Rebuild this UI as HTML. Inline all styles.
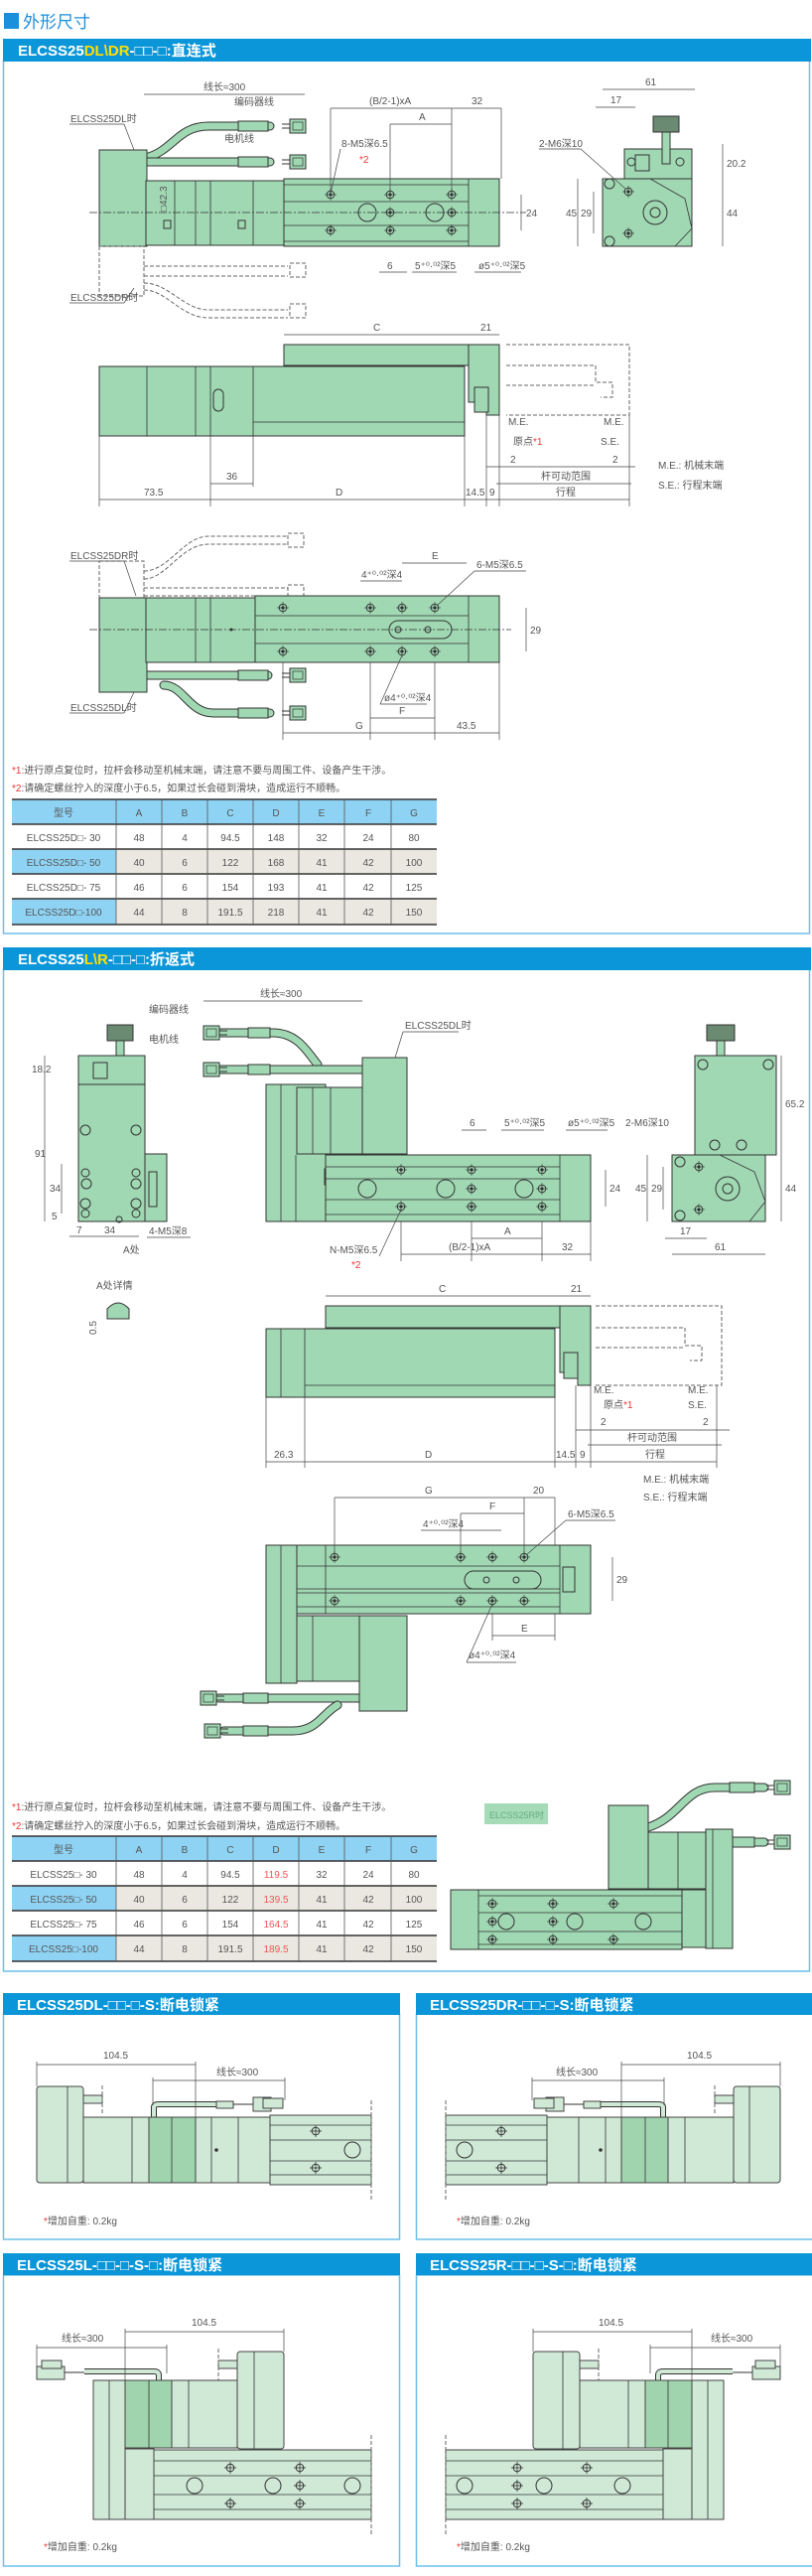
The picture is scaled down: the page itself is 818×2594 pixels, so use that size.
<!DOCTYPE html>
<html><head><meta charset="utf-8"><style>
body{margin:0;background:#fff}
svg{display:block}
text{font-family:"Liberation Sans","Noto Sans CJK SC",sans-serif}
.d{font-size:10px;fill:#555}
.hd{font-size:15px;font-weight:bold;fill:#fff}
.g{fill:#a0d8b3;stroke:#333;stroke-width:1}
.lg{fill:#cfe9d6;stroke:#444;stroke-width:1}
.dg{fill:#9fd4ae;stroke:#444;stroke-width:1}
.ln{stroke:#333;stroke-width:.8;fill:none}
.dm{stroke:#444;stroke-width:.7;fill:none}
.ds{stroke:#666;stroke-width:1;fill:none;stroke-dasharray:4 2}
.cl{stroke:#333;stroke-width:.7;stroke-dasharray:8 2 2 2}
.cb{fill:none;stroke:#333;stroke-width:9;stroke-linecap:round}
.cbi{fill:none;stroke:#a0d8b3;stroke-width:7;stroke-linecap:round}
</style></head><body>
<svg width="818" height="2594" viewBox="0 0 818 2594" xmlns="http://www.w3.org/2000/svg">
<defs>
<g id="h"><circle r="3.8" fill="#a0d8b3" stroke="#333" stroke-width="1"/><circle r="1.6" fill="#333"/><line x1="-6" x2="6" stroke="#333" stroke-width=".6"/><line y1="-6" y2="6" stroke="#333" stroke-width=".6"/></g>
<g id="hl"><circle r="3.8" fill="#cfe9d6" stroke="#333" stroke-width="1"/><line x1="-6" x2="6" stroke="#333" stroke-width=".8"/><line y1="-6" y2="6" stroke="#333" stroke-width=".8"/></g>
<g id="con"><rect x="0" y="-7" width="16" height="14" fill="#a0d8b3" stroke="#333"/><rect x="3" y="-4" width="10" height="8" fill="none" stroke="#333" stroke-width=".7"/><line x1="-8" y1="-2" x2="0" y2="-2" stroke="#333"/><line x1="-8" y1="2" x2="0" y2="2" stroke="#333"/></g>
</defs>

<!-- title -->
<rect x="4" y="13" width="15" height="16" fill="#1a8fdc"/>
<text x="23" y="28" font-size="17" fill="#1a8fdc">外形尺寸</text>

<!-- SECTION 1 -->
<rect x="3.5" y="61" width="812" height="879" fill="#fff" stroke="#6cc0ea" stroke-width="1.5"/>
<rect x="3" y="39" width="814" height="23" fill="#0a96d8"/>
<text x="18" y="56" class="hd">ELCSS25<tspan fill="#ffe000">DL\DR</tspan>-□□-□:直连式</text>

<!-- drawing 1 -->
<path class="cb" d="M150 158 C175 150 180 127 210 127 L272 127"/><path class="cbi" d="M150 158 C175 150 180 127 210 127 L272 127"/>
<path class="cb" d="M148 163 L272 163"/><path class="cbi" d="M148 163 L272 163"/>
<rect x="240" y="122" width="30" height="10" class="g"/><rect x="240" y="158" width="30" height="10" class="g"/>
<use href="#con" x="292" y="127"/><use href="#con" x="292" y="163"/>
<rect x="100" y="151" width="48" height="97" class="g"/>
<rect x="147" y="182" width="139" height="65" class="g"/>
<line class="ln" x1="176" y1="182" x2="176" y2="247"/><line class="ln" x1="197" y1="182" x2="197" y2="247"/><line class="ln" x1="212" y1="182" x2="212" y2="247"/><line class="ln" x1="255" y1="182" x2="255" y2="247"/>
<rect x="286" y="180" width="217" height="68" class="g"/>
<line class="ln" x1="286" y1="186" x2="472" y2="186"/><line class="ln" x1="286" y1="203" x2="472" y2="203"/><line class="ln" x1="286" y1="227" x2="472" y2="227"/><line class="ln" x1="286" y1="243" x2="472" y2="243"/><line class="ln" x1="472" y1="180" x2="472" y2="248"/>
<circle cx="370" cy="214" r="9" fill="none" stroke="#333"/><circle cx="438" cy="214" r="9" fill="none" stroke="#333"/>
<use href="#h" x="333" y="196"/><use href="#h" x="393" y="196"/><use href="#h" x="455" y="196"/>
<use href="#h" x="393" y="214"/><use href="#h" x="455" y="214"/>
<use href="#h" x="333" y="232"/><use href="#h" x="393" y="232"/><use href="#h" x="455" y="232"/>
<rect x="165" y="222" width="7" height="8" fill="none" stroke="#333"/><rect x="240" y="222" width="7" height="8" fill="none" stroke="#333"/>
<text class="d" x="160" y="205" transform="rotate(-90 168 205)">□42.3</text>
<line class="cl" x1="90" y1="214" x2="530" y2="214"/>
<!-- dims -->
<line class="dm" x1="145" y1="95" x2="307" y2="95"/><text class="d" x="205" y="91">线长≈300</text>
<line class="dm" x1="333" y1="109" x2="455" y2="109"/><text class="d" x="372" y="105">(B/2-1)xA</text>
<line class="dm" x1="455" y1="109" x2="505" y2="109"/><text class="d" x="475" y="105">32</text>
<line class="dm" x1="393" y1="125" x2="455" y2="125"/><text class="d" x="422" y="121">A</text>
<line class="dm" x1="333" y1="109" x2="333" y2="196"/><line class="dm" x1="455" y1="109" x2="455" y2="196"/><line class="dm" x1="393" y1="125" x2="393" y2="196"/><line class="dm" x1="505" y1="109" x2="505" y2="180"/>
<text class="d" x="344" y="148">8-M5深6.5</text><text x="362" y="164" font-size="10" fill="#e33">*2</text>
<line class="dm" x1="343" y1="150" x2="333" y2="195"/>
<text class="d" x="236" y="106">编码器线</text><text class="d" x="226" y="143">电机线</text>
<text class="d" x="71" y="123">ELCSS25DL时</text><line class="dm" x1="70" y1="125" x2="125" y2="125"/><line class="dm" x1="125" y1="125" x2="135" y2="151"/>
<line class="dm" x1="525" y1="196" x2="525" y2="232"/><text class="d" x="530" y="218">24</text>
<text class="d" x="390" y="271">6</text><text class="d" x="418" y="271">5⁺⁰·⁰²深5</text><text class="d" x="482" y="271">ø5⁺⁰·⁰²深5</text>
<line class="dm" x1="382" y1="274" x2="410" y2="274"/><line class="dm" x1="415" y1="274" x2="460" y2="274"/><line class="dm" x1="478" y1="274" x2="525" y2="274"/>
<!-- dashed DR -->
<rect x="100" y="248" width="45" height="50" fill="none" class="ds"/>
<path class="ds" d="M145 268 L290 268 M145 278 L290 278 M145 285 C170 285 185 312 210 312 L290 312 M145 292 C168 292 182 320 210 320 L290 320"/>
<rect x="292" y="265" width="16" height="14" class="ds"/><rect x="292" y="306" width="16" height="14" class="ds"/>
<text class="d" x="71" y="303">ELCSS25DR时</text><line class="dm" x1="70" y1="305" x2="125" y2="305"/><line class="dm" x1="125" y1="305" x2="135" y2="290"/>
<!-- side view -->
<rect x="629" y="150" width="68" height="30" class="g"/>
<rect x="640" y="156" width="14" height="16" fill="none" stroke="#333"/>
<rect x="667" y="130" width="8" height="35" class="g"/><rect x="658" y="117" width="26" height="16" fill="#6a8a72" stroke="#333"/>
<circle cx="685" cy="163" r="4" fill="none" stroke="#333"/><circle cx="636" cy="163" r="4" fill="none" stroke="#333"/>
<rect x="607" y="180" width="90" height="68" class="g"/>
<path class="ln" d="M655 180 L690 200 L697 230 L680 248"/>
<circle cx="660" cy="214" r="12" fill="none" stroke="#333"/><circle cx="660" cy="214" r="5" fill="none" stroke="#333"/>
<circle cx="614" cy="185" r="5" fill="none" stroke="#333"/><circle cx="614" cy="243" r="5" fill="none" stroke="#333"/>
<use href="#h" x="633" y="193"/><use href="#h" x="633" y="235"/>
<line class="dm" x1="607" y1="90" x2="700" y2="90"/><text class="d" x="650" y="86">61</text>
<line class="dm" x1="600" y1="108" x2="640" y2="108"/><text class="d" x="615" y="104">17</text>
<text class="d" x="543" y="148">2-M6深10</text><line class="dm" x1="543" y1="150" x2="585" y2="150"/><line class="dm" x1="585" y1="150" x2="630" y2="190"/>
<line class="dm" x1="582" y1="180" x2="582" y2="248"/><text class="d" x="570" y="218">45</text>
<line class="dm" x1="598" y1="193" x2="598" y2="235"/><text class="d" x="585" y="218">29</text>
<line class="dm" x1="728" y1="145" x2="728" y2="180"/><text class="d" x="732" y="168">20.2</text>
<line class="dm" x1="728" y1="180" x2="728" y2="248"/><text class="d" x="732" y="218">44</text>

<!-- drawing 2 -->
<line class="dm" x1="286" y1="337" x2="472" y2="337"/><text class="d" x="376" y="333">C</text>
<line class="dm" x1="472" y1="337" x2="503" y2="337"/><text class="d" x="484" y="333">21</text>
<rect x="286" y="347" width="186" height="21" class="g"/>
<rect x="100" y="369" width="368" height="70" class="g"/>
<line class="ln" x1="148" y1="369" x2="148" y2="439"/><line class="ln" x1="197" y1="369" x2="197" y2="439"/><line class="ln" x1="212" y1="369" x2="212" y2="439"/><line class="ln" x1="255" y1="369" x2="255" y2="439"/><line class="ln" x1="255" y1="425" x2="468" y2="425"/>
<rect x="215" y="392" width="10" height="22" rx="5" fill="none" stroke="#333"/>
<path class="g" d="M472 347 H503 V418 H490 V405 H472 Z"/>
<rect x="478" y="390" width="14" height="25" class="g"/>
<path class="ds" d="M510 347 H634 V418 H510 M510 368 H600 V385 H617 V400 H605 M510 388 H600"/>
<line class="dm" x1="100" y1="439" x2="100" y2="510"/><line class="dm" x1="212" y1="439" x2="212" y2="510"/><line class="dm" x1="255" y1="439" x2="255" y2="490"/><line class="dm" x1="468" y1="439" x2="468" y2="510"/><line class="dm" x1="490" y1="418" x2="490" y2="510"/><line class="dm" x1="503" y1="418" x2="503" y2="510"/><line class="dm" x1="634" y1="418" x2="634" y2="510"/>
<line class="dm" x1="212" y1="487" x2="255" y2="487"/><text class="d" x="228" y="483">36</text>
<line class="dm" x1="500" y1="487" x2="636" y2="487"/><text class="d" x="545" y="483">杆可动范围</text>
<line class="dm" x1="100" y1="503" x2="634" y2="503"/>
<text class="d" x="145" y="499">73.5</text><text class="d" x="338" y="499">D</text><text class="d" x="469" y="499">14.5</text><text class="d" x="493" y="499">9</text><text class="d" x="560" y="499">行程</text>
<text class="d" x="512" y="428">M.E.</text><text class="d" x="608" y="428">M.E.</text>
<text class="d" x="517" y="448">原点<tspan fill="#e33">*1</tspan></text><text class="d" x="605" y="448">S.E.</text>
<text class="d" x="514" y="466">2</text><text class="d" x="617" y="466">2</text>
<line class="dm" x1="490" y1="470" x2="640" y2="470"/>
<text class="d" x="663" y="472">M.E.: 机械末端</text><text class="d" x="663" y="492">S.E.: 行程末端</text>

<!-- drawing 3 -->
<rect x="100" y="565" width="45" height="37" class="ds"/>
<path class="ds" d="M145 575 C170 575 185 540 210 540 L290 540 M145 583 C168 583 182 548 210 548 L290 548 M145 592 L290 592 M145 600 L290 600"/>
<rect x="290" y="537" width="16" height="14" class="ds"/><rect x="290" y="589" width="16" height="14" class="ds"/>
<text class="d" x="71" y="563">ELCSS25DR时</text><line class="dm" x1="70" y1="565" x2="125" y2="565"/><line class="dm" x1="125" y1="565" x2="137" y2="600"/>
<path class="cb" d="M148 680 L270 680"/><path class="cbi" d="M148 680 L270 680"/>
<path class="cb" d="M165 690 C185 690 190 718 215 718 L272 718"/><path class="cbi" d="M165 690 C185 690 190 718 215 718 L272 718"/>
<rect x="240" y="675" width="30" height="10" class="g"/><rect x="240" y="713" width="30" height="10" class="g"/>
<use href="#con" x="292" y="680"/><use href="#con" x="292" y="718"/>
<rect x="100" y="602" width="48" height="95" class="g"/>
<rect x="147" y="602" width="110" height="65" class="g"/>
<line class="ln" x1="197" y1="602" x2="197" y2="667"/><line class="ln" x1="212" y1="602" x2="212" y2="667"/>
<circle cx="233" cy="634" r="1.5" fill="#333"/>
<rect x="257" y="600" width="246" height="67" class="g"/>
<line class="ln" x1="257" y1="620" x2="472" y2="620"/><line class="ln" x1="257" y1="648" x2="472" y2="648"/><line class="ln" x1="472" y1="600" x2="472" y2="667"/>
<rect x="392" y="625" width="63" height="18" rx="9" fill="#a0d8b3" stroke="#333"/>
<circle cx="401" cy="634" r="3" fill="none" stroke="#333"/><circle cx="431" cy="634" r="3" fill="none" stroke="#333"/>
<use href="#h" x="285" y="612"/><use href="#h" x="373" y="612"/><use href="#h" x="405" y="612"/><use href="#h" x="438" y="612"/>
<use href="#h" x="285" y="656"/><use href="#h" x="373" y="656"/><use href="#h" x="405" y="656"/><use href="#h" x="438" y="656"/>
<line class="cl" x1="90" y1="634" x2="515" y2="634"/>
<text class="d" x="71" y="716">ELCSS25DL时</text><line class="dm" x1="70" y1="718" x2="125" y2="718"/><line class="dm" x1="125" y1="718" x2="135" y2="697"/>
<line class="dm" x1="405" y1="567" x2="470" y2="567"/><text class="d" x="435" y="563">E</text>
<text class="d" x="480" y="572">6-M5深6.5</text><line class="dm" x1="478" y1="575" x2="530" y2="575"/><line class="dm" x1="478" y1="575" x2="440" y2="610"/>
<text class="d" x="364" y="582">4⁺⁰·⁰²深4</text><line class="dm" x1="363" y1="585" x2="405" y2="585"/>
<line class="dm" x1="530" y1="612" x2="530" y2="656"/><text class="d" x="534" y="638">29</text>
<text class="d" x="387" y="706">ø4⁺⁰·⁰²深4</text><line class="dm" x1="383" y1="709" x2="430" y2="709"/><line class="dm" x1="383" y1="709" x2="405" y2="660"/>
<line class="dm" x1="373" y1="667" x2="373" y2="745"/><line class="dm" x1="438" y1="667" x2="438" y2="745"/><line class="dm" x1="285" y1="667" x2="285" y2="745"/><line class="dm" x1="503" y1="667" x2="503" y2="745"/>
<line class="dm" x1="373" y1="723" x2="438" y2="723"/><text class="d" x="402" y="719">F</text>
<line class="dm" x1="285" y1="738" x2="503" y2="738"/><text class="d" x="358" y="734">G</text><text class="d" x="460" y="734">43.5</text>

<!-- notes 1 -->
<text x="12" y="779" font-size="10" fill="#555"><tspan fill="#e33">*1</tspan>:进行原点复位时，拉杆会移动至机械末端，请注意不要与周围工件、设备产生干涉。</text>
<text x="12" y="797" font-size="10" fill="#555"><tspan fill="#e33">*2</tspan>:请确定螺丝拧入的深度小于6.5，如果过长会碰到滑块，造成运行不顺畅。</text>
<!-- table 1 -->
<g font-size="10" fill="#555">
<rect x="12" y="805" width="428" height="25" fill="#8fd3f4"/>
<rect x="12" y="855" width="105" height="25" fill="#8fd3f4"/><rect x="117" y="855" width="323" height="25" fill="#ebe8e1"/>
<rect x="12" y="905" width="105" height="26" fill="#8fd3f4"/><rect x="117" y="905" width="323" height="26" fill="#ebe8e1"/>
<g stroke="#333" stroke-width="1.5"><line x1="12" y1="805" x2="440" y2="805"/><line x1="12" y1="830" x2="440" y2="830"/><line x1="12" y1="855" x2="440" y2="855"/><line x1="12" y1="880" x2="440" y2="880"/><line x1="12" y1="905" x2="440" y2="905"/><line x1="12" y1="931" x2="440" y2="931"/></g>
<g stroke="#555" stroke-width=".8"><line x1="117" y1="805" x2="117" y2="931"/><line x1="163" y1="805" x2="163" y2="931"/><line x1="209" y1="805" x2="209" y2="931"/><line x1="255" y1="805" x2="255" y2="931"/><line x1="301" y1="805" x2="301" y2="931"/><line x1="347" y1="805" x2="347" y2="931"/><line x1="394" y1="805" x2="394" y2="931"/></g>
<g text-anchor="middle">
<text x="64" y="822">型号</text><text x="140" y="822">A</text><text x="186" y="822">B</text><text x="232" y="822">C</text><text x="278" y="822">D</text><text x="324" y="822">E</text><text x="371" y="822">F</text><text x="417" y="822">G</text>
<text x="64" y="847">ELCSS25D□- 30</text><text x="140" y="847">48</text><text x="186" y="847">4</text><text x="232" y="847">94.5</text><text x="278" y="847">148</text><text x="324" y="847">32</text><text x="371" y="847">24</text><text x="417" y="847">80</text>
<text x="64" y="872">ELCSS25D□- 50</text><text x="140" y="872">40</text><text x="186" y="872">6</text><text x="232" y="872">122</text><text x="278" y="872">168</text><text x="324" y="872">41</text><text x="371" y="872">42</text><text x="417" y="872">100</text>
<text x="64" y="897">ELCSS25D□- 75</text><text x="140" y="897">46</text><text x="186" y="897">6</text><text x="232" y="897">154</text><text x="278" y="897">193</text><text x="324" y="897">41</text><text x="371" y="897">42</text><text x="417" y="897">125</text>
<text x="64" y="922">ELCSS25D□-100</text><text x="140" y="922">44</text><text x="186" y="922">8</text><text x="232" y="922">191.5</text><text x="278" y="922">218</text><text x="324" y="922">41</text><text x="371" y="922">42</text><text x="417" y="922">150</text>
</g></g>

<!-- SECTION 2 -->
<rect x="3.5" y="976" width="812" height="1009" fill="#fff" stroke="#6cc0ea" stroke-width="1.5"/>
<rect x="3" y="954" width="814" height="23" fill="#0a96d8"/>
<text x="18" y="971" class="hd">ELCSS25<tspan fill="#ffe000">L\R</tspan>-□□-□:折返式</text>

<!-- left view -->
<rect x="108" y="1032" width="26" height="16" fill="#6a8a72" stroke="#333"/><rect x="117" y="1048" width="8" height="28" class="g"/>
<rect x="79" y="1063" width="67" height="30" class="g"/>
<rect x="94" y="1070" width="14" height="16" fill="none" stroke="#333"/>
<rect x="79" y="1092" width="67" height="138" class="g"/>
<rect x="146" y="1162" width="22" height="68" class="g"/><rect x="150" y="1180" width="8" height="35" fill="none" stroke="#333"/>
<circle cx="87" cy="1192" r="5" fill="none" stroke="#333"/><circle cx="137" cy="1192" r="5" fill="none" stroke="#333"/>
<circle cx="87" cy="1280" r="0" />
<circle cx="85" cy="1280" r="0"/>
<circle cx="86" cy="1212" r="5" fill="none" stroke="#333"/><circle cx="137" cy="1212" r="5" fill="none" stroke="#333"/>
<circle cx="86" cy="1138" r="5" fill="none" stroke="#333"/><circle cx="137" cy="1138" r="5" fill="none" stroke="#333"/>
<circle cx="86" cy="1222" r="4" fill="none" stroke="#333"/><circle cx="137" cy="1222" r="4" fill="none" stroke="#333"/>
<circle cx="86" cy="1181" r="4" fill="none" stroke="#333"/><circle cx="137" cy="1181" r="4" fill="none" stroke="#333"/>
<line class="dm" x1="45" y1="1063" x2="45" y2="1230"/><text class="d" x="32" y="1080">18.2</text><text class="d" x="35" y="1165">91</text>
<line class="dm" x1="62" y1="1172" x2="62" y2="1222"/><text class="d" x="50" y="1200">34</text><text class="d" x="52" y="1228">5</text>
<line class="dm" x1="70" y1="1245" x2="140" y2="1245"/><text class="d" x="77" y="1242">7</text><text class="d" x="105" y="1242">34</text>
<text class="d" x="150" y="1243">4-M5深8</text><line class="dm" x1="148" y1="1246" x2="192" y2="1246"/>
<text class="d" x="124" y="1262">A处</text><circle cx="120" cy="1228" r="3" fill="none" stroke="#333"/>
<text class="d" x="97" y="1298">A处详情</text>
<path d="M108 1328 V1318 Q119 1306 130 1318 V1328 Z" class="g"/><text class="d" x="88" y="1345" transform="rotate(-90 92 1340)">0.5</text>

<!-- middle view -->
<path class="cb" d="M320 1072 C310 1060 300 1040 275 1040 L222 1040"/><path class="cbi" d="M320 1072 C310 1060 300 1040 275 1040 L222 1040"/>
<path class="cb" d="M365 1077 L222 1077"/><path class="cbi" d="M365 1077 L222 1077"/>
<rect x="250" y="1035" width="22" height="10" class="g"/><rect x="250" y="1072" width="22" height="10" class="g"/>
<g transform="translate(221 1040) scale(-1 1)"><use href="#con" x="0" y="0"/></g><g transform="translate(221 1077) scale(-1 1)"><use href="#con" x="0" y="0"/></g>
<rect x="268" y="1092" width="60" height="138" class="g"/><line class="ln" x1="283" y1="1092" x2="283" y2="1230"/><line class="ln" x1="298" y1="1163" x2="298" y2="1230"/>
<rect x="299" y="1095" width="66" height="67" class="g"/><line class="ln" x1="315" y1="1095" x2="315" y2="1162"/><line class="ln" x1="333" y1="1095" x2="333" y2="1162"/>
<rect x="365" y="1065" width="45" height="97" class="g"/>
<rect x="327" y="1177" width="6" height="16" fill="none" stroke="#333"/>
<rect x="328" y="1163" width="267" height="67" class="g"/>
<line class="ln" x1="328" y1="1175" x2="564" y2="1175"/><line class="ln" x1="328" y1="1187" x2="564" y2="1187"/><line class="ln" x1="328" y1="1208" x2="564" y2="1208"/><line class="ln" x1="328" y1="1223" x2="564" y2="1223"/><line class="ln" x1="564" y1="1163" x2="564" y2="1230"/>
<circle cx="370" cy="1197" r="9" fill="none" stroke="#333"/><circle cx="449" cy="1197" r="9" fill="none" stroke="#333"/><circle cx="528" cy="1197" r="9" fill="none" stroke="#333"/>
<use href="#h" x="404" y="1178"/><use href="#h" x="475" y="1178"/><use href="#h" x="546" y="1178"/>
<use href="#h" x="475" y="1197"/><use href="#h" x="546" y="1197"/>
<use href="#h" x="404" y="1215"/><use href="#h" x="475" y="1215"/><use href="#h" x="546" y="1215"/>
<line class="dm" x1="205" y1="1008" x2="365" y2="1008"/><text class="d" x="262" y="1004">线长≈300</text>
<text class="d" x="150" y="1020">编码器线</text><text class="d" x="150" y="1050">电机线</text>
<text class="d" x="408" y="1036">ELCSS25DL时</text><line class="dm" x1="406" y1="1039" x2="462" y2="1039"/><line class="dm" x1="406" y1="1039" x2="398" y2="1065"/>
<text class="d" x="473" y="1134">6</text><text class="d" x="508" y="1134">5⁺⁰·⁰²深5</text><text class="d" x="572" y="1134">ø5⁺⁰·⁰²深5</text><text class="d" x="630" y="1134">2-M6深10</text>
<line class="dm" x1="465" y1="1138" x2="490" y2="1138"/><line class="dm" x1="505" y1="1138" x2="548" y2="1138"/><line class="dm" x1="570" y1="1138" x2="612" y2="1138"/>
<line class="dm" x1="610" y1="1178" x2="610" y2="1215"/><text class="d" x="614" y="1200">24</text>
<line class="dm" x1="475" y1="1230" x2="475" y2="1270"/><line class="dm" x1="546" y1="1230" x2="546" y2="1270"/><line class="dm" x1="595" y1="1230" x2="595" y2="1270"/><line class="dm" x1="404" y1="1230" x2="404" y2="1270"/>
<line class="dm" x1="475" y1="1247" x2="546" y2="1247"/><text class="d" x="508" y="1243">A</text>
<line class="dm" x1="404" y1="1263" x2="595" y2="1263"/><text class="d" x="452" y="1259">(B/2-1)xA</text><text class="d" x="566" y="1259">32</text>
<text class="d" x="332" y="1262">N-M5深6.5</text><text x="354" y="1277" font-size="10" fill="#e33">*2</text><line class="dm" x1="382" y1="1265" x2="404" y2="1218"/>
<!-- right view -->
<rect x="712" y="1032" width="28" height="16" fill="#6a8a72" stroke="#333"/><rect x="722" y="1048" width="8" height="20" class="g"/>
<rect x="700" y="1063" width="82" height="100" class="g"/>
<circle cx="708" cy="1072" r="5" fill="none" stroke="#333"/><circle cx="774" cy="1072" r="5" fill="none" stroke="#333"/>
<circle cx="720" cy="1153" r="5" fill="none" stroke="#333"/><circle cx="747" cy="1153" r="5" fill="none" stroke="#333"/>
<rect x="677" y="1163" width="94" height="67" class="g"/>
<path class="ln" d="M725 1163 L760 1180 L771 1210 L755 1230"/>
<circle cx="733" cy="1197" r="12" fill="none" stroke="#333"/><circle cx="733" cy="1197" r="5" fill="none" stroke="#333"/>
<circle cx="685" cy="1170" r="5" fill="none" stroke="#333"/><circle cx="685" cy="1224" r="5" fill="none" stroke="#333"/>
<use href="#h" x="704" y="1175"/><use href="#h" x="704" y="1218"/>
<line class="dm" x1="787" y1="1063" x2="787" y2="1163"/><text class="d" x="791" y="1115">65.2</text>
<line class="dm" x1="787" y1="1163" x2="787" y2="1230"/><text class="d" x="791" y="1200">44</text>
<line class="dm" x1="652" y1="1163" x2="652" y2="1230"/><text class="d" x="640" y="1200">45</text>
<line class="dm" x1="668" y1="1175" x2="668" y2="1218"/><text class="d" x="656" y="1200">29</text>
<line class="dm" x1="670" y1="1247" x2="712" y2="1247"/><text class="d" x="685" y="1243">17</text>
<line class="dm" x1="677" y1="1263" x2="771" y2="1263"/><text class="d" x="720" y="1259">61</text>

<!-- sec2 drawing 2 -->
<line class="dm" x1="328" y1="1305" x2="564" y2="1305"/><text class="d" x="442" y="1301">C</text>
<line class="dm" x1="564" y1="1305" x2="595" y2="1305"/><text class="d" x="575" y="1301">21</text>
<rect x="328" y="1315" width="236" height="22" class="g"/>
<rect x="268" y="1338" width="291" height="69" class="g"/><line class="ln" x1="283" y1="1338" x2="283" y2="1407"/><line class="ln" x1="307" y1="1338" x2="307" y2="1407"/><line class="ln" x1="307" y1="1395" x2="559" y2="1395"/>
<path class="g" d="M564 1315 H595 V1395 H582 V1382 H564 Z"/><rect x="568" y="1362" width="14" height="26" class="g"/>
<path class="ds" d="M600 1315 H727 V1395 H600 M600 1337 H690 V1355 H707 V1370 H695 M600 1357 H690"/>
<line class="dm" x1="268" y1="1407" x2="268" y2="1478"/><line class="dm" x1="307" y1="1407" x2="307" y2="1478"/><line class="dm" x1="559" y1="1407" x2="559" y2="1478"/><line class="dm" x1="580" y1="1395" x2="580" y2="1478"/><line class="dm" x1="595" y1="1395" x2="595" y2="1478"/><line class="dm" x1="722" y1="1395" x2="722" y2="1478"/>
<line class="dm" x1="592" y1="1455" x2="727" y2="1455"/><text class="d" x="632" y="1451">杆可动范围</text>
<line class="dm" x1="268" y1="1472" x2="722" y2="1472"/>
<text class="d" x="276" y="1468">26.3</text><text class="d" x="428" y="1468">D</text><text class="d" x="560" y="1468">14.5</text><text class="d" x="584" y="1468">9</text><text class="d" x="650" y="1468">行程</text>
<text class="d" x="598" y="1403">M.E.</text><text class="d" x="693" y="1403">M.E.</text>
<text class="d" x="608" y="1418">原点<tspan fill="#e33">*1</tspan></text><text class="d" x="693" y="1418">S.E.</text>
<text class="d" x="605" y="1435">2</text><text class="d" x="708" y="1435">2</text>
<line class="dm" x1="580" y1="1440" x2="735" y2="1440"/>
<text class="d" x="648" y="1493">M.E.: 机械末端</text><text class="d" x="648" y="1511">S.E.: 行程末端</text>

<!-- sec2 drawing 3 -->
<path class="cb" d="M362 1710 L220 1710"/><path class="cbi" d="M362 1710 L220 1710"/>
<path class="cb" d="M340 1717 C325 1725 320 1743 295 1743 L225 1743"/><path class="cbi" d="M340 1717 C325 1725 320 1743 295 1743 L225 1743"/>
<rect x="245" y="1705" width="25" height="10" class="g"/><rect x="245" y="1738" width="25" height="10" class="g"/>
<g transform="translate(218 1710) scale(-1 1)"><use href="#con" x="0" y="0"/></g><g transform="translate(222 1743) scale(-1 1)"><use href="#con" x="0" y="0"/></g>
<rect x="268" y="1556" width="31" height="139" class="g"/><line class="ln" x1="283" y1="1556" x2="283" y2="1695"/>
<rect x="299" y="1627" width="63" height="66" class="g"/><line class="ln" x1="315" y1="1627" x2="315" y2="1693"/>
<rect x="362" y="1627" width="48" height="96" class="g"/>
<rect x="299" y="1556" width="296" height="69" class="g"/>
<line class="ln" x1="328" y1="1556" x2="328" y2="1625"/><line class="ln" x1="564" y1="1556" x2="564" y2="1625"/>
<line class="ln" x1="299" y1="1577" x2="564" y2="1577"/><line class="ln" x1="299" y1="1600" x2="564" y2="1600"/><line class="ln" x1="299" y1="1604" x2="564" y2="1604"/><line class="ln" x1="299" y1="1618" x2="564" y2="1618"/>
<rect x="468" y="1582" width="77" height="18" rx="9" fill="#a0d8b3" stroke="#333"/>
<circle cx="490" cy="1591" r="3" fill="none" stroke="#333"/><circle cx="520" cy="1591" r="3" fill="none" stroke="#333"/>
<rect x="567" y="1578" width="12" height="25" class="g"/>
<use href="#h" x="337" y="1568"/><use href="#h" x="464" y="1568"/><use href="#h" x="496" y="1568"/><use href="#h" x="528" y="1568"/>
<use href="#h" x="337" y="1612"/><use href="#h" x="464" y="1612"/><use href="#h" x="496" y="1612"/><use href="#h" x="528" y="1612"/>
<line class="dm" x1="337" y1="1508" x2="528" y2="1508"/><text class="d" x="428" y="1504">G</text>
<line class="dm" x1="528" y1="1508" x2="559" y2="1508"/><text class="d" x="537" y="1504">20</text>
<line class="dm" x1="464" y1="1524" x2="528" y2="1524"/><text class="d" x="493" y="1520">F</text>
<line class="dm" x1="337" y1="1508" x2="337" y2="1568"/><line class="dm" x1="528" y1="1508" x2="528" y2="1568"/><line class="dm" x1="559" y1="1508" x2="559" y2="1556"/><line class="dm" x1="464" y1="1524" x2="464" y2="1568"/>
<text class="d" x="426" y="1538">4⁺⁰·⁰²深4</text><line class="dm" x1="424" y1="1541" x2="505" y2="1541"/>
<text class="d" x="572" y="1528">6-M5深6.5</text><line class="dm" x1="570" y1="1531" x2="620" y2="1531"/><line class="dm" x1="570" y1="1531" x2="530" y2="1566"/>
<line class="dm" x1="617" y1="1568" x2="617" y2="1612"/><text class="d" x="621" y="1594">29</text>
<line class="dm" x1="496" y1="1625" x2="496" y2="1652"/><line class="dm" x1="559" y1="1625" x2="559" y2="1652"/>
<line class="dm" x1="496" y1="1647" x2="559" y2="1647"/><text class="d" x="525" y="1643">E</text>
<text class="d" x="472" y="1670">ø4⁺⁰·⁰²深4</text><line class="dm" x1="470" y1="1674" x2="520" y2="1674"/><line class="dm" x1="470" y1="1674" x2="496" y2="1615"/>

<!-- notes 2 & table 2 -->
<text x="12" y="1823" font-size="10" fill="#555"><tspan fill="#e33">*1</tspan>:进行原点复位时，拉杆会移动至机械末端，请注意不要与周围工件、设备产生干涉。</text>
<text x="12" y="1842" font-size="10" fill="#555"><tspan fill="#e33">*2</tspan>:请确定螺丝拧入的深度小于6.5，如果过长会碰到滑块，造成运行不顺畅。</text>
<g font-size="10" fill="#555">
<rect x="12" y="1849" width="428" height="25" fill="#8fd3f4"/>
<rect x="12" y="1899" width="105" height="25" fill="#8fd3f4"/><rect x="117" y="1899" width="323" height="25" fill="#ebe8e1"/>
<rect x="12" y="1949" width="105" height="26" fill="#8fd3f4"/><rect x="117" y="1949" width="323" height="26" fill="#ebe8e1"/>
<g stroke="#333" stroke-width="1.5"><line x1="12" y1="1849" x2="440" y2="1849"/><line x1="12" y1="1874" x2="440" y2="1874"/><line x1="12" y1="1899" x2="440" y2="1899"/><line x1="12" y1="1924" x2="440" y2="1924"/><line x1="12" y1="1949" x2="440" y2="1949"/><line x1="12" y1="1975" x2="440" y2="1975"/></g>
<g stroke="#555" stroke-width=".8"><line x1="117" y1="1849" x2="117" y2="1975"/><line x1="163" y1="1849" x2="163" y2="1975"/><line x1="209" y1="1849" x2="209" y2="1975"/><line x1="255" y1="1849" x2="255" y2="1975"/><line x1="301" y1="1849" x2="301" y2="1975"/><line x1="347" y1="1849" x2="347" y2="1975"/><line x1="394" y1="1849" x2="394" y2="1975"/></g>
<g text-anchor="middle">
<text x="64" y="1866">型号</text><text x="140" y="1866">A</text><text x="186" y="1866">B</text><text x="232" y="1866">C</text><text x="278" y="1866">D</text><text x="324" y="1866">E</text><text x="371" y="1866">F</text><text x="417" y="1866">G</text>
<text x="64" y="1891">ELCSS25□- 30</text><text x="140" y="1891">48</text><text x="186" y="1891">4</text><text x="232" y="1891">94.5</text><text x="278" y="1891" fill="#e55">119.5</text><text x="324" y="1891">32</text><text x="371" y="1891">24</text><text x="417" y="1891">80</text>
<text x="64" y="1916">ELCSS25□- 50</text><text x="140" y="1916">40</text><text x="186" y="1916">6</text><text x="232" y="1916">122</text><text x="278" y="1916" fill="#e55">139.5</text><text x="324" y="1916">41</text><text x="371" y="1916">42</text><text x="417" y="1916">100</text>
<text x="64" y="1941">ELCSS25□- 75</text><text x="140" y="1941">46</text><text x="186" y="1941">6</text><text x="232" y="1941">154</text><text x="278" y="1941" fill="#e55">164.5</text><text x="324" y="1941">41</text><text x="371" y="1941">42</text><text x="417" y="1941">125</text>
<text x="64" y="1966">ELCSS25□-100</text><text x="140" y="1966">44</text><text x="186" y="1966">8</text><text x="232" y="1966">191.5</text><text x="278" y="1966" fill="#e55">189.5</text><text x="324" y="1966">41</text><text x="371" y="1966">42</text><text x="417" y="1966">150</text>
</g></g>
<!-- R drawing -->
<rect x="488" y="1816" width="64" height="21" fill="#a5dcb7"/><text x="493" y="1831" font-size="9" fill="#6a8">ELCSS25R时</text>
<path class="cb" d="M653 1840 C685 1830 690 1800 720 1800 L770 1800"/><path class="cbi" d="M653 1840 C685 1830 690 1800 720 1800 L770 1800"/>
<path class="cb" d="M653 1855 L770 1855"/><path class="cbi" d="M653 1855 L770 1855"/>
<rect x="735" y="1795" width="25" height="10" class="g"/><rect x="735" y="1850" width="25" height="10" class="g"/>
<use href="#con" x="780" y="1800"/><use href="#con" x="780" y="1855"/>
<rect x="613" y="1818" width="40" height="84" class="g"/>
<rect x="653" y="1845" width="58" height="57" class="g"/><line class="ln" x1="683" y1="1845" x2="683" y2="1902"/>
<rect x="711" y="1842" width="27" height="120" class="g"/><line class="ln" x1="718" y1="1842" x2="718" y2="1962"/>
<rect x="454" y="1903" width="233" height="60" class="g"/><rect x="687" y="1903" width="24" height="58" class="g"/>
<line class="ln" x1="482" y1="1903" x2="482" y2="1963"/>
<line class="ln" x1="482" y1="1909" x2="687" y2="1909"/><line class="ln" x1="482" y1="1926" x2="687" y2="1926"/><line class="ln" x1="482" y1="1945" x2="687" y2="1945"/><line class="ln" x1="482" y1="1958" x2="687" y2="1958"/>
<use href="#h" x="496" y="1917"/><use href="#h" x="557" y="1917"/><use href="#h" x="618" y="1917"/>
<use href="#h" x="496" y="1935"/><use href="#h" x="557" y="1935"/>
<use href="#h" x="496" y="1953"/><use href="#h" x="557" y="1953"/><use href="#h" x="618" y="1953"/>
<circle cx="510" cy="1935" r="8" fill="none" stroke="#333"/><circle cx="579" cy="1935" r="8" fill="none" stroke="#333"/><circle cx="648" cy="1935" r="8" fill="none" stroke="#333"/>

<!-- SECTION 3 boxes -->
<g>
<rect x="3.5" y="2028" width="399" height="227" fill="#fff" stroke="#6cc0ea" stroke-width="1.5"/>
<rect x="419.5" y="2028" width="400" height="227" fill="#fff" stroke="#6cc0ea" stroke-width="1.5"/>
<rect x="3" y="2007" width="400" height="22" fill="#0a96d8"/><rect x="419" y="2007" width="401" height="22" fill="#0a96d8"/>
<text x="17" y="2024" class="hd">ELCSS25DL-□□-□-S:断电锁紧</text>
<text x="433" y="2024" class="hd">ELCSS25DR-□□-□-S:断电锁紧</text>
<rect x="3.5" y="2291" width="399" height="293" fill="#fff" stroke="#6cc0ea" stroke-width="1.5"/>
<rect x="419.5" y="2291" width="400" height="293" fill="#fff" stroke="#6cc0ea" stroke-width="1.5"/>
<rect x="3" y="2269" width="400" height="22" fill="#0a96d8"/><rect x="419" y="2269" width="401" height="22" fill="#0a96d8"/>
<text x="17" y="2286" class="hd">ELCSS25L-□□-□-S-□:断电锁紧</text>
<text x="433" y="2286" class="hd">ELCSS25R-□□-□-S-□:断电锁紧</text>
</g>
<!-- box1 & mirrored box2 shapes -->
<g id="b1">
<path d="M155 2132 V2122 Q155 2119 160 2119 H232" fill="none" stroke="#333" stroke-width="6"/><path d="M155 2132 V2122 Q155 2119 160 2119 H232" fill="none" stroke="#cfe9d6" stroke-width="4"/>
<rect x="218" y="2116" width="17" height="7" class="lg"/><line x1="235" y1="2119" x2="255" y2="2119" stroke="#333"/>
<rect x="255" y="2112" width="18" height="14" class="lg"/><rect x="265" y="2113" width="20" height="10" class="lg"/>
<path d="M84 2110 H103 V2118 H84" class="lg"/>
<line class="ds" x1="103" y1="2100" x2="103" y2="2130"/>
<rect x="37" y="2101" width="47" height="97" rx="3" class="lg"/><line class="ln" x1="68" y1="2101" x2="68" y2="2198"/>
<rect x="84" y="2132" width="188" height="66" class="lg"/>
<rect x="150" y="2132" width="47" height="66" class="dg"/><line class="ln" x1="173" y1="2132" x2="173" y2="2198"/>
<line class="ln" x1="133" y1="2132" x2="133" y2="2198"/><line class="ln" x1="213" y1="2132" x2="213" y2="2198"/><line class="ln" x1="240" y1="2132" x2="240" y2="2198"/>
<circle cx="218" cy="2165" r="1.8" fill="#333"/>
<rect x="272" y="2130" width="102" height="70" class="lg"/>
<line class="ln" x1="272" y1="2140" x2="374" y2="2140"/><line class="ln" x1="272" y1="2155" x2="374" y2="2155"/><line class="ln" x1="272" y1="2176" x2="374" y2="2176"/><line class="ln" x1="272" y1="2190" x2="374" y2="2190"/>
<use href="#hl" x="318" y="2146"/><use href="#hl" x="318" y="2183"/><circle cx="355" cy="2165" r="8" fill="none" stroke="#333"/>
<line class="ds" x1="374" y1="2115" x2="374" y2="2215"/>
<line class="dm" x1="37" y1="2079" x2="197" y2="2079"/><line class="dm" x1="37" y1="2076" x2="37" y2="2101"/><line class="dm" x1="197" y1="2076" x2="197" y2="2132"/>
<line class="dm" x1="154" y1="2095" x2="287" y2="2095"/><line class="dm" x1="154" y1="2092" x2="154" y2="2120"/><line class="dm" x1="287" y1="2092" x2="287" y2="2115"/>
</g>
<use href="#b1" transform="translate(823 0) scale(-1 1)"/>
<text class="d" x="104" y="2073">104.5</text><text class="d" x="218" y="2090">线长≈300</text>
<text class="d" x="692" y="2073">104.5</text><text class="d" x="560" y="2090">线长≈300</text>
<text x="44" y="2240" font-size="10" fill="#555"><tspan fill="#e33">*</tspan>增加自重: 0.2kg</text>
<text x="460" y="2240" font-size="10" fill="#555"><tspan fill="#e33">*</tspan>增加自重: 0.2kg</text>
<!-- box3 & mirrored box4 -->
<g id="b3">
<path d="M160 2397 V2392 Q160 2388 155 2388 H85" fill="none" stroke="#333" stroke-width="6"/><path d="M160 2397 V2392 Q160 2388 155 2388 H85" fill="none" stroke="#cfe9d6" stroke-width="4"/>
<line x1="65" y1="2389" x2="85" y2="2389" stroke="#333"/>
<rect x="37" y="2383" width="28" height="13" class="lg"/><rect x="42" y="2377" width="20" height="8" class="lg"/>
<path d="M239 2377 H220 V2385 H239" class="lg"/><line class="ds" x1="220" y1="2365" x2="220" y2="2400"/>
<rect x="94" y="2397" width="32" height="140" class="lg"/><line class="ln" x1="110" y1="2397" x2="110" y2="2537"/>
<rect x="126" y="2397" width="47" height="68" class="dg"/><line class="ln" x1="150" y1="2397" x2="150" y2="2465"/>
<rect x="173" y="2397" width="66" height="68" class="lg"/><line class="ln" x1="190" y1="2397" x2="190" y2="2465"/>
<rect x="239" y="2368" width="47" height="98" rx="3" class="lg"/><line class="ln" x1="256" y1="2368" x2="256" y2="2466"/>
<rect x="126" y="2466" width="29" height="71" class="lg"/>
<rect x="155" y="2467" width="219" height="70" class="lg"/>
<line class="ln" x1="155" y1="2478" x2="374" y2="2478"/><line class="ln" x1="155" y1="2493" x2="374" y2="2493"/><line class="ln" x1="155" y1="2512" x2="374" y2="2512"/><line class="ln" x1="155" y1="2527" x2="374" y2="2527"/>
<use href="#hl" x="232" y="2485"/><use href="#hl" x="302" y="2485"/><use href="#hl" x="302" y="2503"/><use href="#hl" x="232" y="2521"/><use href="#hl" x="302" y="2521"/>
<circle cx="196" cy="2503" r="8" fill="none" stroke="#333"/><circle cx="275" cy="2503" r="8" fill="none" stroke="#333"/><circle cx="355" cy="2503" r="8" fill="none" stroke="#333"/>
<line class="ds" x1="374" y1="2452" x2="374" y2="2552"/>
<line class="dm" x1="126" y1="2348" x2="286" y2="2348"/><line class="dm" x1="126" y1="2345" x2="126" y2="2397"/><line class="dm" x1="286" y1="2345" x2="286" y2="2368"/>
<line class="dm" x1="37" y1="2364" x2="168" y2="2364"/><line class="dm" x1="37" y1="2361" x2="37" y2="2383"/><line class="dm" x1="168" y1="2361" x2="168" y2="2390"/>
</g>
<use href="#b3" transform="translate(823 0) scale(-1 1)"/>
<text class="d" x="193" y="2342">104.5</text><text class="d" x="62" y="2358">线长≈300</text>
<text class="d" x="603" y="2342">104.5</text><text class="d" x="716" y="2358">线长≈300</text>
<text x="44" y="2568" font-size="10" fill="#555"><tspan fill="#e33">*</tspan>增加自重: 0.2kg</text>
<text x="460" y="2568" font-size="10" fill="#555"><tspan fill="#e33">*</tspan>增加自重: 0.2kg</text>
</svg>
</body></html>
